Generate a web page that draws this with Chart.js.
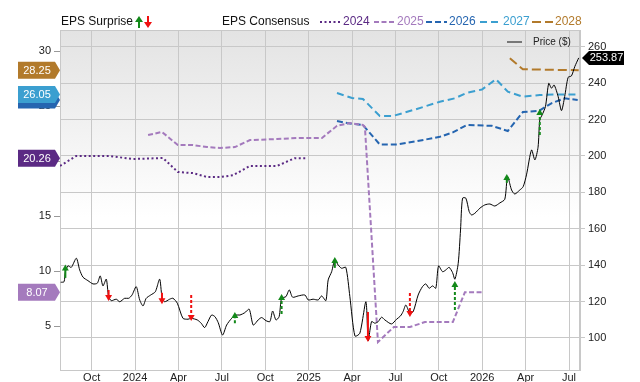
<!DOCTYPE html>
<html>
<head>
<meta charset="utf-8">
<script src="https://cdn.jsdelivr.net/npm/chart.js@4.4.1/dist/chart.umd.min.js"></script>
<style>
  html, body { margin: 0; padding: 0; background: #fff; }
  #wrap { width: 640px; height: 382px; }
</style>
</head>
<body>
<div id="wrap"><canvas id="c" width="640" height="382"></canvas></div>
<script>
// x values are months counted from Jul 2023 (3 = Oct 2023, 6 = Jan 2024 ...)
const tickMonths = [3, 6, 9, 12, 15, 18, 21, 24, 27, 30, 33, 36];
const tickLabels = ['Oct', '2024', 'Apr', 'Jul', 'Oct', '2025', 'Apr', 'Jul', 'Oct', '2026', 'Apr', 'Jul'];
const epsTicks = [5, 10, 15, 20, 25, 30];
const priceTicks = [100, 120, 140, 160, 180, 200, 220, 240, 260];

const priceMonths = [0.86,1.09,1.18,1.36,1.59,1.94,2.17,2.40,2.74,3.09,
  3.39,3.59,3.78,4.01,4.17,4.35,4.70,4.94,5.28,5.56,
  5.79,6.08,6.32,6.55,6.77,7.08,7.40,7.70,7.86,8.04,
  8.39,8.62,8.92,9.31,9.66,9.88,10.30,10.57,10.81,11.04,
  11.29,11.52,11.75,12.05,12.33,12.68,12.97,13.25,13.59,13.89,
  14.17,14.51,14.75,15.05,15.32,15.51,15.74,15.96,16.13,16.43,
  16.66,16.89,17.28,17.74,17.97,18.31,18.66,18.90,19.19,19.35,
  19.59,19.81,20.04,20.28,20.57,20.85,21.20,21.54,21.96,22.12,
  22.35,22.58,22.81,23.04,23.27,23.73,24.08,24.35,24.53,24.72,
  25.00,25.23,25.57,25.87,26.10,26.33,26.57,26.79,26.98,27.26,
  27.49,27.71,27.95,28.11,28.34,28.50,28.64,28.87,29.10,29.26,
  29.49,29.84,30.18,30.53,30.87,31.22,31.56,31.75,32.03,32.25,
  32.60,32.83,33.06,33.41,33.64,33.86,33.98,34.14,34.37,34.60,
  34.79,34.97,35.25,35.48,35.70,35.94,36.17,36.40,36.67];
const priceValues = [130.6,130.9,136.4,139.6,138.8,143.8,137.4,133.4,131.5,129.7,
  130.1,134.1,128.6,132.3,122.7,120.5,121.3,119.9,121.8,121.8,
  123.6,128.2,120.9,117.6,121.8,123.6,125.4,132.3,122.7,119.9,
  121.3,121.8,119.1,110.8,110.3,110.8,109.9,108.1,105.7,109.0,
  112.6,111.7,108.4,101.6,107.1,110.8,112.6,112.6,113.9,115.8,
  107.1,109.9,111.2,109.5,109.0,114.8,109.9,111.7,121.8,122.7,
  126.4,122.4,123.1,123.6,120.9,121.3,120.9,123.1,120.5,131.9,
  136.4,142.9,140.1,138.3,138.8,122.7,101.1,102.6,119.9,98.5,
  109.0,108.1,109.0,111.4,109.9,107.7,110.3,112.1,114.5,118.1,
  113.6,114.5,123.6,128.2,129.7,127.3,128.6,127.3,139.6,136.4,
  137.4,138.8,135.9,132.3,141.0,159.3,176.8,176.8,169.4,167.6,
  168.5,171.3,173.1,173.6,172.5,174.2,176.2,188.6,181.3,179.1,
  181.3,183.1,189.6,203.3,197.8,204.8,219.8,222.5,227.1,239.9,
  237.2,239.0,232.6,224.9,232.6,243.2,244.0,249.1,253.87];

const eps2024Months = [0.81,1.92,4.26,5.85,7.93,8.96,10.0,10.97,11.87,12.77,13.94,15.81,17.05,17.88];
const eps2024Values = [19.55,20.45,20.45,20.18,20.27,19.0,18.9,18.55,18.55,18.7,19.55,19.55,20.26,20.26];

const eps2025Months = [6.90,7.86,8.96,10.0,10.97,11.87,12.90,13.94,15.81,17.40,18.92,19.96,20.85,21.75,21.89,22.79,23.89,25.0,26.04,27.97,28.80,29.98];
const eps2025Values = [22.36,22.64,21.45,21.45,21.27,21.18,21.27,21.9,22.0,22.1,22.1,23.2,23.45,23.27,23.1,3.55,4.91,4.91,5.36,5.36,8.07,8.07];

const eps2026Months = [19.96,20.64,21.75,22.92,24.10,25.48,27.07,27.97,28.93,30.66,31.77,32.81,33.91,34.81,35.70,36.60];
const eps2026Values = [23.64,23.45,23.27,21.5,21.5,21.8,22.2,22.6,23.27,23.2,22.73,24.45,24.55,25.27,25.7,25.55];

const eps2027Months = [19.96,21.0,21.75,22.92,23.82,25.48,27.07,28.11,28.93,29.98,30.95,31.77,32.81,33.98,34.88,36.67];
const eps2027Values = [26.18,25.73,25.64,24.09,24.09,24.73,25.39,25.7,26.2,26.5,27.43,26.3,25.85,26.0,26.05,26.05];

const eps2028Months = [31.91,32.81,36.67];
const eps2028Values = [29.34,28.34,28.25];

// EPS surprises: month, price at tail, price at head, beat?, dotted shaft?
const surpMonths = [1.18, 4.17, 7.86, 9.88, 12.9, 16.13, 19.81, 22.1, 25.0, 28.11, 31.7, 33.98];
const surpFrom   = [133.0, 126.4, 124.9, 123.6, 108.1, 113.2, 138.5, 114.3, 124.7, 115.4, 185.2, 211.5];
const surpTo     = [138.1, 122.5, 120.7, 111.5, 112.1, 122.0, 142.3, 100.0, 113.7, 129.1, 187.9, 223.6];
const surpBeat   = [true, false, false, false, true, true, true, false, false, true, true, true];
const surpDotted = [false, false, false, true, true, true, false, false, true, true, false, true];

const years = ['2024', '2025', '2026', '2027', '2028'];
const yearColors = ['#5b2a84', '#a47abd', '#2565b0', '#3b9fd0', '#b27a2b'];
const yearDashes = [[2, 2.5], [5, 2.5], [6, 3], [7, 4], [9, 4]];

const GREEN = '#13891a';
const RED = '#f01010';
const FONT = '"Liberation Sans", Arial, sans-serif';

function pts(xs, ys) { return xs.map((x, i) => ({ x: x, y: ys[i] })); }

const epsSeries = [
  pts(eps2024Months, eps2024Values),
  pts(eps2025Months, eps2025Values),
  pts(eps2026Months, eps2026Values),
  pts(eps2027Months, eps2027Values),
  pts(eps2028Months, eps2028Values)
];

const datasets = [];
surpMonths.forEach((m, i) => {
  const col = surpBeat[i] ? GREEN : RED;
  datasets.push({
    data: [{ x: m, y: surpFrom[i] }, { x: m, y: surpTo[i] }],
    yAxisID: 'yP', borderColor: col, borderWidth: 2,
    borderDash: surpDotted[i] ? [3, 2] : [],
    pointRadius: [0, 4], pointStyle: 'triangle',
    rotation: surpBeat[i] ? 0 : 180,
    pointBackgroundColor: col, pointBorderColor: col, pointBorderWidth: 0
  });
});
datasets.push({
  data: pts(priceMonths, priceValues), yAxisID: 'yP',
  borderColor: '#000', borderWidth: 1, pointRadius: 0, tension: 0.25
});
epsSeries.forEach((d, i) => {
  datasets.push({
    data: d, yAxisID: 'yE', borderColor: yearColors[i], borderWidth: 2,
    borderDash: yearDashes[i], pointRadius: 0, tension: 0
  });
});

const bgPlugin = {
  id: 'bg',
  beforeDraw(chart) {
    const { ctx, chartArea: a } = chart;
    const g = ctx.createLinearGradient(0, a.top, 0, a.bottom);
    g.addColorStop(0, '#e3e3e3');
    g.addColorStop(0.55, '#ffffff');
    g.addColorStop(1, '#ffffff');
    ctx.save();
    ctx.fillStyle = g;
    ctx.fillRect(a.left, a.top, a.right - a.left, a.bottom - a.top);
    ctx.strokeStyle = '#c8c8c8';
    ctx.lineWidth = 1;
    ctx.strokeRect(a.left + 0.5, a.top + 0.5, a.right - a.left - 1, a.bottom - a.top);
    ctx.restore();
  }
};

function arrowIcon(ctx, x, y, up, col) {
  ctx.fillStyle = col; ctx.strokeStyle = col; ctx.lineWidth = 2;
  ctx.beginPath();
  if (up) { ctx.moveTo(x, y + 6); ctx.lineTo(x, y - 1); } else { ctx.moveTo(x, y - 6); ctx.lineTo(x, y + 1); }
  ctx.stroke();
  ctx.beginPath();
  if (up) { ctx.moveTo(x - 4, y); ctx.lineTo(x + 4, y); ctx.lineTo(x, y - 6); }
  else { ctx.moveTo(x - 4, y); ctx.lineTo(x + 4, y); ctx.lineTo(x, y + 6); }
  ctx.closePath(); ctx.fill();
}

const overlayPlugin = {
  id: 'overlay',
  afterDraw(chart) {
    const { ctx, scales } = chart;
    ctx.save();
    // top legend
    ctx.font = '12px ' + FONT;
    ctx.textBaseline = 'middle';
    ctx.fillStyle = '#111';
    ctx.fillText('EPS Surprise', 61, 22);
    arrowIcon(ctx, 139, 22, true, GREEN);
    arrowIcon(ctx, 148, 22, false, RED);
    ctx.fillStyle = '#111';
    ctx.fillText('EPS Consensus', 222, 22);
    const sampleX = [320, 374, 426, 480, 532];
    years.forEach((y, i) => {
      ctx.strokeStyle = yearColors[i];
      ctx.lineWidth = 2;
      ctx.setLineDash(yearDashes[i]);
      ctx.beginPath();
      ctx.moveTo(sampleX[i], 22); ctx.lineTo(sampleX[i] + 21, 22);
      ctx.stroke();
      ctx.setLineDash([]);
      ctx.fillStyle = yearColors[i];
      ctx.fillText(y, sampleX[i] + 23, 22);
    });
    // price legend
    ctx.strokeStyle = '#777'; ctx.lineWidth = 2;
    ctx.beginPath(); ctx.moveTo(507, 42); ctx.lineTo(522, 42); ctx.stroke();
    ctx.fillStyle = '#222';
    ctx.font = '10px ' + FONT;
    ctx.fillText('Price ($)', 533, 42);

    // left value tags (last EPS of each year)
    ctx.font = '11px ' + FONT;
    ctx.textAlign = 'center';
    epsSeries.forEach((d, i) => {
      const v = d[d.length - 1].y;
      const y = scales.yE.getPixelForValue(v);
      ctx.fillStyle = yearColors[i];
      ctx.beginPath();
      ctx.moveTo(18, y - 8.5); ctx.lineTo(55, y - 8.5); ctx.lineTo(60, y);
      ctx.lineTo(55, y + 8.5); ctx.lineTo(18, y + 8.5); ctx.closePath();
      ctx.fill();
      ctx.fillStyle = '#fff';
      ctx.fillText(v.toFixed(2), 37, y + 0.5);
    });
    // right price tag
    const last = priceValues[priceValues.length - 1];
    const py = scales.yP.getPixelForValue(last);
    ctx.fillStyle = '#000';
    ctx.beginPath();
    ctx.moveTo(582, py); ctx.lineTo(589, py - 7); ctx.lineTo(624, py - 7);
    ctx.lineTo(624, py + 7); ctx.lineTo(589, py + 7); ctx.closePath();
    ctx.fill();
    ctx.fillStyle = '#fff';
    ctx.fillText(last.toFixed(2), 606.5, py + 0.5);
    ctx.restore();
  }
};

new Chart(document.getElementById('c'), {
  type: 'line',
  data: { datasets: datasets },
  plugins: [bgPlugin, overlayPlugin],
  options: {
    responsive: false,
    devicePixelRatio: 1,
    animation: false,
    events: [],
    layout: { padding: { top: 30, left: 0, right: 0, bottom: 0 } },
    plugins: { legend: { display: false }, tooltip: { enabled: false } },
    scales: {
      x: {
        type: 'linear', min: 0.81, max: 36.76,
        afterBuildTicks: (s) => { s.ticks = tickMonths.map(v => ({ value: v })); },
        afterFit: (s) => { s.height = 12; },
        grid: { color: '#c8c8c8', drawTicks: false },
        border: { color: '#c8c8c8' },
        ticks: {
          padding: 1, maxRotation: 0, autoSkip: false, color: '#222',
          font: { family: FONT, size: 11 },
          callback: (v) => tickLabels[tickMonths.indexOf(v)]
        }
      },
      yE: {
        type: 'linear', position: 'left', min: 1.0, max: 31.91,
        afterBuildTicks: (s) => { s.ticks = epsTicks.map(v => ({ value: v })); },
        afterFit: (s) => { s.width = 60; },
        grid: { drawOnChartArea: false, tickLength: 6, color: '#999' },
        border: { color: '#c8c8c8' },
        ticks: { padding: 3, color: '#222', font: { family: FONT, size: 11 } }
      },
      yP: {
        type: 'linear', position: 'right', min: 82.4, max: 269.2,
        afterBuildTicks: (s) => { s.ticks = priceTicks.map(v => ({ value: v })); },
        afterFit: (s) => { s.width = 60; },
        grid: { color: '#c8c8c8', tickLength: 5 },
        border: { color: '#c8c8c8' },
        ticks: { padding: 3, color: '#222', font: { family: FONT, size: 11 } }
      }
    }
  }
});
</script>
</body>
</html>
